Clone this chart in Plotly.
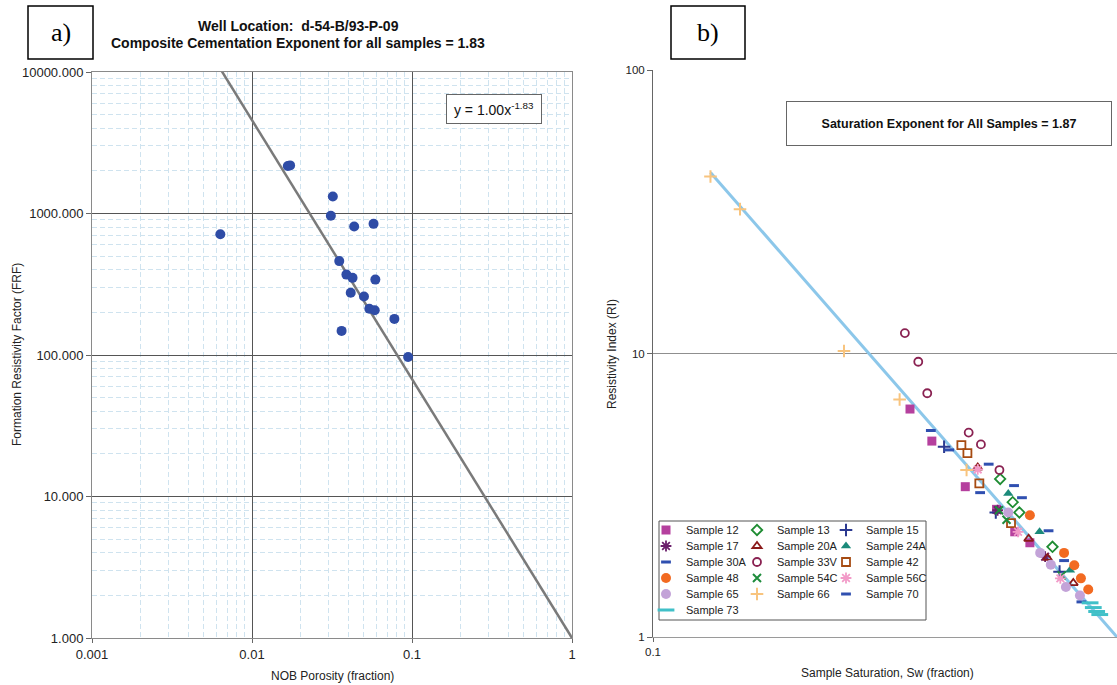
import plotly.graph_objects as go

W, H = 1117, 685


def px(x):
    return x / W


def py(y):
    return 1 - y / H


FONT = "Liberation Sans, Arial, Helvetica, sans-serif"
SERIF = "Liberation Serif, Times New Roman, serif"

# ---------------- Panel a: formation resistivity factor vs porosity ----------
porosity = [0.00634, 0.01675, 0.0173, 0.0320, 0.0311, 0.0435, 0.0575, 0.0351,
            0.0389, 0.0425, 0.0590, 0.0414, 0.0501, 0.0541, 0.0585, 0.0776,
            0.0363, 0.0946]
frf = [714, 2168, 2188, 1318, 964, 809, 845, 461,
       370, 351, 341, 275, 259, 212, 207, 180,
       148, 96.8]
cement_a = 1.00
cement_m = 1.83
a_xticks = [0.001, 0.01, 0.1, 1]
a_xticklabels = ["0.001", "0.01", "0.1", "1"]
a_yticks = [1, 10, 100, 1000, 10000]
a_yticklabels = ["1.000", "10.000", "100.000", "1000.000", "10000.000"]

# ---------------- Panel b: resistivity index vs water saturation ------------
sat_n = 1.87
b_yticks = [1, 10, 100]
b_yticklabels = ["1", "10", "100"]
b_xticks = [0.1]
b_xticklabels = ["0.1"]

s12_sw = [0.358, 0.399, 0.471, 0.550, 0.602, 0.649]
s12_ri = [6.37, 4.91, 3.39, 2.82, 2.35, 2.15]
s13_sw = [0.560, 0.596, 0.616, 0.726]
s13_ri = [3.61, 2.99, 2.75, 2.08]
s15_sw = [0.424, 0.548, 0.752]
s15_ri = [4.69, 2.75, 1.70]
s17_sw = [0.553, 0.700]
s17_ri = [2.80, 1.92]
s20a_sw = [0.501, 0.645, 0.708, 0.805]
s20a_ri = [3.96, 2.22, 1.90, 1.55]
s24a_sw = [0.583, 0.681, 0.792]
s24a_ri = [3.21, 2.35, 1.72]
s30a_sw = [0.397, 0.435, 0.507, 0.600]
s30a_ri = [5.35, 4.57, 3.23, 3.42]
s33v_sw = [0.349, 0.373, 0.390, 0.479, 0.509, 0.558]
s33v_ri = [11.8, 9.35, 7.24, 5.26, 4.78, 3.88]
s42_sw = [0.462, 0.476, 0.505, 0.591]
s42_ri = [4.75, 4.45, 3.48, 2.52]
s48_sw = [0.649, 0.769, 0.809, 0.836, 0.867]
s48_ri = [2.69, 1.98, 1.79, 1.61, 1.47]
s54c_sw = [0.557, 0.578, 0.760]
s54c_ri = [2.80, 2.59, 1.65]
s56c_sw = [0.501, 0.612, 0.755]
s56c_ri = [3.90, 2.35, 1.61]
s65_sw = [0.583, 0.683, 0.720, 0.776, 0.832]
s65_ri = [2.75, 1.98, 1.80, 1.50, 1.40]
s66_sw = [0.133, 0.154, 0.258, 0.340, 0.474]
s66_ri = [42.1, 32.3, 10.2, 6.88, 3.88]
s70_sw = [0.529, 0.624, 0.712, 0.769, 0.838]
s70_ri = [4.07, 3.10, 2.37, 1.86, 1.33]
s73_sw = [0.875, 0.889, 0.904, 0.918]
s73_ri = [1.32, 1.27, 1.23, 1.20]

sample_names = ["Sample 12", "Sample 13", "Sample 15", "Sample 17",
                "Sample 20A", "Sample 24A", "Sample 30A", "Sample 33V",
                "Sample 42", "Sample 48", "Sample 54C", "Sample 56C",
                "Sample 65", "Sample 66", "Sample 70", "Sample 73"]
sample_sw = [s12_sw, s13_sw, s15_sw, s17_sw, s20a_sw, s24a_sw, s30a_sw,
             s33v_sw, s42_sw, s48_sw, s54c_sw, s56c_sw, s65_sw, s66_sw,
             s70_sw, s73_sw]
sample_ri = [s12_ri, s13_ri, s15_ri, s17_ri, s20a_ri, s24a_ri, s30a_ri,
             s33v_ri, s42_ri, s48_ri, s54c_ri, s56c_ri, s65_ri, s66_ri,
             s70_ri, s73_ri]

# marker style per sample: (symbol, colour, size, stroke width)
sample_style = {
    "Sample 12": ("square", "#B5409E", 9, 0),
    "Sample 13": ("diamond-open", "#1E8C32", 8, 1.8),
    "Sample 15": ("cross-thin-open", "#2B3990", 9, 2),
    "Sample 17": ("asterisk-open", "#6B1F6B", 9, 1.8),
    "Sample 20A": ("triangle-up-open", "#8B1A1A", 8, 1.8),
    "Sample 24A": ("triangle-up", "#1B8A7A", 9, 0),
    "Sample 30A": ("line-ew-open", "#2F4FB0", 7, 3),
    "Sample 33V": ("circle-open", "#8A2252", 8, 1.8),
    "Sample 42": ("square-open", "#A64B12", 8, 1.8),
    "Sample 48": ("circle", "#F26A21", 10, 0),
    "Sample 54C": ("x-thin-open", "#1E8C3C", 8, 2),
    "Sample 56C": ("asterisk-open", "#F29AC8", 9, 1.8),
    "Sample 65": ("circle", "#C3A3D8", 10, 0),
    "Sample 66": ("cross-thin-open", "#F8C47E", 9, 2),
    "Sample 70": ("line-ew-open", "#3050B0", 7, 3),
    "Sample 73": ("line-ew-open", "#40C0C8", 12, 3),
}

# legend grid: three columns, filled row by row
legend_cols = 3
legend_col_x = [665, 756, 845]      # marker centre of each column, px
legend_row_y = [530, 546, 562, 578, 594, 610]  # centre of each row, px

fig = go.Figure()

# ----- panel a traces -----
fit_a_x = [a_xticks[0], a_xticks[-1]]
fig.add_trace(go.Scatter(
    x=fit_a_x, y=[cement_a * v ** (-cement_m) for v in fit_a_x],
    mode="lines", line=dict(color="#7A7A7A", width=2.5),
    xaxis="x", yaxis="y", showlegend=False, hoverinfo="skip"))
fig.add_trace(go.Scatter(
    x=porosity, y=frf, mode="markers",
    marker=dict(symbol="circle", size=10, color="#2F4CA6"),
    xaxis="x", yaxis="y", showlegend=False))

# ----- panel b traces -----
fit_b_x = [min(s66_sw), 1.0]
fig.add_trace(go.Scatter(
    x=fit_b_x, y=[v ** (-sat_n) for v in fit_b_x],
    mode="lines", line=dict(color="#8CC7EA", width=3),
    xaxis="x2", yaxis="y2", showlegend=False, hoverinfo="skip"))

legend_layouts = {}
for i, (name, sw, ri) in enumerate(zip(sample_names, sample_sw, sample_ri)):
    sym, col, size, lw = sample_style[name]
    key = "legend" if i == 0 else f"legend{i + 1}"
    r, c = divmod(i, legend_cols)
    legend_layouts[key] = dict(
        orientation="h", x=px(legend_col_x[c] - 19), xanchor="left",
        y=py(legend_row_y[r]), yanchor="middle", itemwidth=30,
        bgcolor="rgba(0,0,0,0)", borderwidth=0,
        font=dict(family=FONT, size=11, color="#222222"))
    fig.add_trace(go.Scatter(
        x=sw, y=ri, mode="markers", name=name,
        marker=dict(symbol=sym, size=size, color=col,
                    line=dict(color=col, width=lw)),
        xaxis="x2", yaxis="y2", legend=key))


def minor_vals(lo_exp, hi_exp):
    return [m * 10.0 ** e for e in range(lo_exp, hi_exp) for m in range(2, 10)]


tick_a = dict(family=FONT, size=13, color="#222222")
tick_b = dict(family=FONT, size=11.5, color="#222222")
minor_grid = dict(showgrid=True, gridcolor="#CFE3EF", griddash="5px,3px",
                  gridwidth=1, ticks="")

layout = dict(
    width=W, height=H,
    margin=dict(l=0, r=0, t=0, b=0, autoexpand=False),
    paper_bgcolor="white", plot_bgcolor="white",
    font=dict(family=FONT, color="#222222"),
    xaxis=dict(
        type="log", domain=[px(92), px(572)], range=[-3, 0],
        tickvals=a_xticks, ticktext=a_xticklabels, tickfont=tick_a,
        showgrid=True, gridcolor="#555555", gridwidth=1,
        minor=dict(tickvals=minor_vals(-3, 0), **minor_grid),
        showline=True, linecolor="#8A8A8A", linewidth=1, mirror=True,
        ticks="outside", ticklen=4, tickcolor="#666666",
        zeroline=False, anchor="y", automargin=False),
    yaxis=dict(
        type="log", domain=[py(638), py(72)], range=[0, 4],
        tickvals=a_yticks, ticktext=a_yticklabels, tickfont=tick_a,
        showgrid=True, gridcolor="#555555", gridwidth=1,
        minor=dict(tickvals=minor_vals(0, 4), **minor_grid),
        showline=True, linecolor="#8A8A8A", linewidth=1, mirror=True,
        ticks="outside", ticklen=5, tickcolor="#666666",
        zeroline=False, anchor="x", automargin=False),
    xaxis2=dict(
        type="log", domain=[px(653), 1.0], range=[-1, 0],
        tickvals=b_xticks, ticktext=b_xticklabels, tickfont=tick_b,
        showgrid=False, showline=True, linecolor="#9A9A9A", linewidth=1,
        ticks="outside", ticklen=4, tickcolor="#666666",
        zeroline=False, anchor="y2", automargin=False),
    yaxis2=dict(
        type="log", domain=[py(637), py(70)], range=[0, 2],
        tickvals=b_yticks, ticktext=b_yticklabels, tickfont=tick_b,
        showgrid=True, gridcolor="#8F8F8F", gridwidth=1,
        showline=True, linecolor="#666666", linewidth=1,
        ticks="outside", ticklen=5, tickcolor="#666666",
        zeroline=False, anchor="x2", automargin=False),
)
layout.update(legend_layouts)
fig.update_layout(**layout)

shapes = [
    # label boxes
    dict(type="rect", xref="paper", yref="paper",
         x0=px(28), x1=px(93), y0=py(59), y1=py(6),
         line=dict(color="black", width=1.5)),
    dict(type="rect", xref="paper", yref="paper",
         x0=px(671), x1=px(745), y0=py(59), y1=py(6),
         line=dict(color="black", width=1.5)),
    # legend frame
    dict(type="rect", xref="paper", yref="paper",
         x0=px(659), x1=px(926), y0=py(620), y1=py(521),
         line=dict(color="#555555", width=1)),
]
fig.update_layout(shapes=shapes)

ann = [
    dict(x=px(61), y=py(33), text="a)", font=dict(family=SERIF, size=26, color="black")),
    dict(x=px(708), y=py(33), text="b)", font=dict(family=SERIF, size=26, color="black")),
    dict(x=px(298), y=py(26), text="<b>Well Location:  d-54-B/93-P-09</b>",
         font=dict(family=FONT, size=14, color="#111111")),
    dict(x=px(298), y=py(43),
         text=f"<b>Composite Cementation Exponent for all samples = {cement_m:.2f}</b>",
         font=dict(family=FONT, size=14, color="#111111")),
    dict(x=px(494), y=py(108.5),
         text=f"y = {cement_a:.2f}x<sup>-{cement_m:.2f}</sup>",
         font=dict(family=FONT, size=14, color="#111111"),
         bordercolor="#666666", borderwidth=1, borderpad=2,
         bgcolor="white", width=90, height=24),
    dict(x=px(949), y=py(123),
         text=f"<b>Saturation Exponent for All Samples = {sat_n:.2f}</b>",
         font=dict(family=FONT, size=12.5, color="#111111"),
         bordercolor="#666666", borderwidth=1, borderpad=2,
         bgcolor="white", width=320, height=39),
    dict(x=px(332), y=py(676), text="NOB Porosity (fraction)",
         font=dict(family=FONT, size=12, color="#222222")),
    dict(x=px(17), y=py(355), text="Formation Resistivity Factor (FRF)",
         textangle=-90, font=dict(family=FONT, size=12, color="#222222")),
    dict(x=px(887), y=py(673), text="Sample Saturation, Sw (fraction)",
         font=dict(family=FONT, size=12, color="#222222")),
    dict(x=px(612), y=py(354), text="Resistivity Index (RI)",
         textangle=-90, font=dict(family=FONT, size=12, color="#222222")),
]
for a in ann:
    a.setdefault("xref", "paper")
    a.setdefault("yref", "paper")
    a.setdefault("showarrow", False)
    a.setdefault("xanchor", "center")
    a.setdefault("yanchor", "middle")
fig.update_layout(annotations=ann)

fig.write_html("out.html")
